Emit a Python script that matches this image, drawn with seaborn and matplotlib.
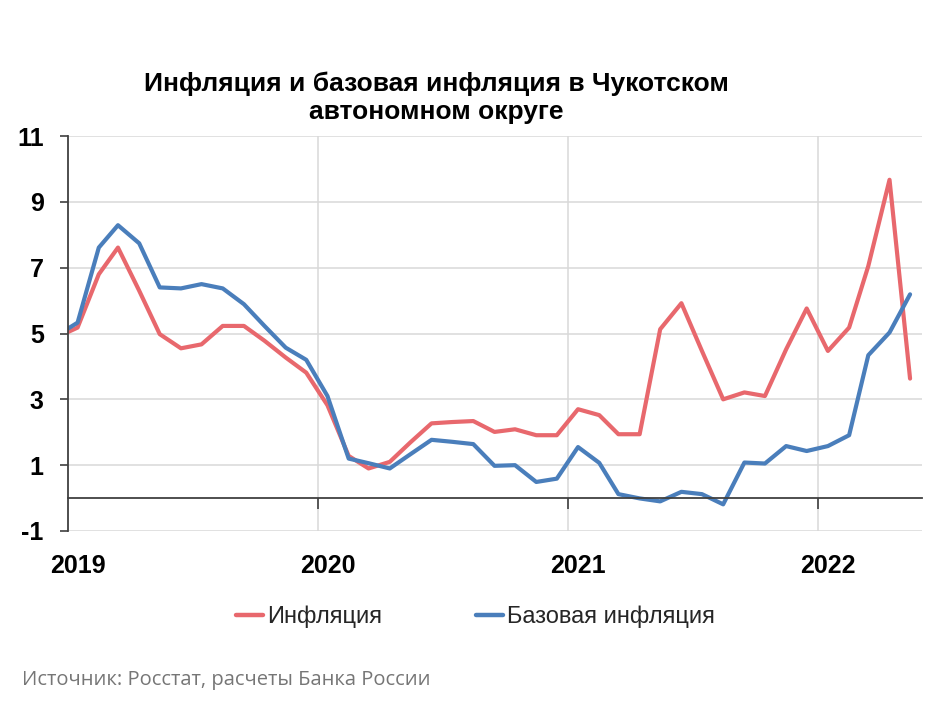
import matplotlib
matplotlib.use("Agg")
import matplotlib.pyplot as plt
import seaborn as sns
import pandas as pd

# Monthly data, Dec 2018 .. May 2022 (points plotted mid-month)
months = ["2018-12", "2019-01", "2019-02", "2019-03", "2019-04", "2019-05", "2019-06",
          "2019-07", "2019-08", "2019-09", "2019-10", "2019-11", "2019-12",
          "2020-01", "2020-02", "2020-03", "2020-04", "2020-05", "2020-06",
          "2020-07", "2020-08", "2020-09", "2020-10", "2020-11", "2020-12",
          "2021-01", "2021-02", "2021-03", "2021-04", "2021-05", "2021-06",
          "2021-07", "2021-08", "2021-09", "2021-10", "2021-11", "2021-12",
          "2022-01", "2022-02", "2022-03", "2022-04", "2022-05"]

inflation = [4.88, 5.18, 6.80, 7.61, 6.30, 4.98, 4.55, 4.67, 5.23, 5.23, 4.78, 4.27, 3.81,
             2.82, 1.28, 0.90, 1.10, 1.69, 2.27, 2.31, 2.34, 2.01, 2.09, 1.91, 1.91,
             2.70, 2.52, 1.94, 1.94, 5.13, 5.92, 4.47, 3.00, 3.21, 3.10, 4.52, 5.76,
             4.47, 5.18, 7.05, 9.67, 3.63]

core_inflation = [4.93, 5.33, 7.61, 8.29, 7.74, 6.40, 6.37, 6.50, 6.37, 5.89, 5.23, 4.57, 4.20,
                  3.10, 1.20, 1.06, 0.90, 1.33, 1.77, 1.71, 1.64, 0.98, 1.00, 0.49, 0.59,
                  1.55, 1.07, 0.12, -0.01, -0.10, 0.19, 0.12, -0.19, 1.08, 1.05, 1.58, 1.43,
                  1.58, 1.91, 4.34, 5.03, 6.19]

series_names = ["Инфляция", "Базовая инфляция"]
year_labels = ["2019", "2020", "2021", "2022"]
y_ticks = [-1, 1, 3, 5, 7, 9, 11]

title = "Инфляция и базовая инфляция в Чукотском\nавтономном округе"
source = "Источник: Росстат, расчеты Банка России"

dates = pd.to_datetime(months) + pd.Timedelta(days=14)
df = pd.DataFrame({
    "date": list(dates) * 2,
    "value": inflation + core_inflation,
    "series": [series_names[0]] * len(dates) + [series_names[1]] * len(dates),
})

sns.set_theme(style="white")
plt.rcParams["font.family"] = ["Liberation Sans", "DejaVu Sans"]

fig = plt.figure(figsize=(9.5, 7.12), dpi=100)
ax = fig.add_axes([68 / 950, 1 - 531 / 712, (921.7 - 68) / 950, (531 - 136) / 712])

palette = {series_names[0]: "#E8686D", series_names[1]: "#4A7EBB"}
sns.lineplot(data=df, x="date", y="value", hue="series", palette=palette,
             linewidth=3.0, ax=ax, legend=True)

ax.set_xlim(pd.Timestamp("2019-01-01"), pd.Timestamp("2022-06-01"))
ax.set_ylim(-1, 11)
ax.set_xlabel("")
ax.set_ylabel("")

# y axis
ax.set_yticks(y_ticks)
ax.set_yticklabels([str(v) for v in y_ticks], fontsize=18, fontweight="bold", color="black")
ax.tick_params(axis="y", which="major", left=True, length=6, width=1.2,
               color="#404040", pad=11.5, direction="out")
ax.yaxis.grid(True, color="#D9D9D9", linewidth=1.1)

# x axis: spine at zero, tick marks at year boundaries, labels mid-January
ax.spines["bottom"].set_position(("data", 0))
ax.spines["bottom"].set_color("#404040")
ax.spines["bottom"].set_linewidth(1.3)
ax.spines["left"].set_color("#404040")
ax.spines["left"].set_linewidth(1.3)
ax.spines["top"].set_visible(False)
ax.spines["right"].set_visible(False)

major = [pd.Timestamp(f"{y}-01-01") for y in year_labels[1:]]
minor = [pd.Timestamp(f"{y}-01-15") for y in year_labels]
ax.set_xticks(major)
ax.set_xticklabels([""] * len(major))
ax.set_xticks(minor, minor=True)
ax.set_xticklabels(year_labels, minor=True, fontsize=18, fontweight="bold", color="black")
ax.tick_params(axis="x", which="major", bottom=True, length=8, width=1.2,
               color="#404040", direction="out")
ax.tick_params(axis="x", which="minor", bottom=False, length=0, pad=40)
ax.xaxis.grid(True, which="major", color="#D9D9D9", linewidth=1.1)
ax.set_axisbelow(True)

# legend
handles, labels = ax.get_legend_handles_labels()
ax.legend_.remove()
for h in handles:
    h.set_linewidth(3.2)
fig.legend(handles, labels, loc="center", bbox_to_anchor=(0.5005, 1 - 617 / 712),
           ncol=2, frameon=False, fontsize=17, handlelength=1.15, handletextpad=0.15,
           columnspacing=4.0)

fig.text(436 / 950, 1 - 97.5 / 712, title, ha="center", va="center",
         fontsize=19, fontweight="bold", linespacing=1.2, color="black")
fig.text(22 / 950, 1 - 685 / 712, source, ha="left", va="baseline",
         fontsize=14.5, color="#767676", family=["Open Sans", "DejaVu Sans"])

fig.savefig("out.png", dpi=100, facecolor="white")
